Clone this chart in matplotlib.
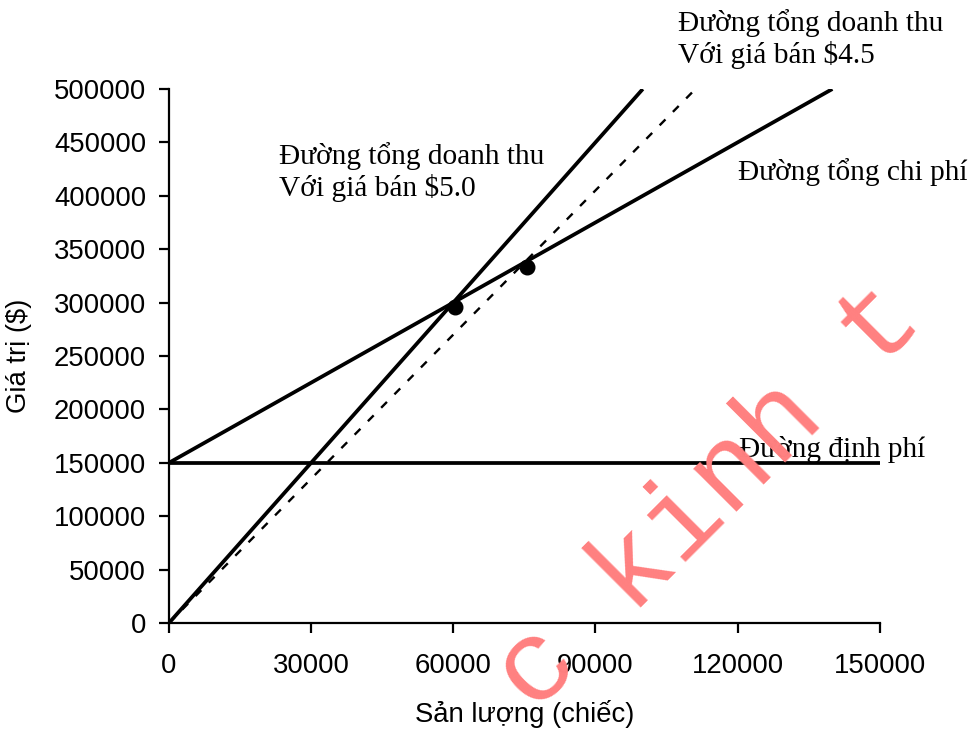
import matplotlib
matplotlib.use("Agg")
import matplotlib.pyplot as plt

# break-even chart: fixed cost, total cost and two revenue lines
q_fixed = [0, 150000]
fixed_cost = [150000, 150000]

q_total = [0, 140000]
total_cost = [150000, 500000]

q_rev50 = [0, 100000]
rev50 = [0, 500000]

q_rev45 = [0, 111111]
rev45 = [0, 500000]

q_points = [60300, 75500]
v_points = [296000, 333000]

x_ticks = [0, 30000, 60000, 90000, 120000, 150000]
y_ticks = [0, 50000, 100000, 150000, 200000, 250000, 300000, 350000, 400000, 450000, 500000]

SANS = "Liberation Sans"
SERIF = "Liberation Serif"
FS = 19.8

fig = plt.figure(figsize=(9.71, 7.29), dpi=100)
ax = fig.add_axes([0.174, 0.1454, 0.732, 0.7325])

ax.plot(q_fixed, fixed_cost, color="black", lw=2.7, solid_capstyle="butt")
ax.plot(q_total, total_cost, color="black", lw=2.7, solid_capstyle="butt")
ax.plot(q_rev50, rev50, color="black", lw=2.7, solid_capstyle="butt")
ax.plot(q_rev45, rev45, color="black", lw=1.7, dashes=(3.5, 4.5))
ax.plot(q_points, v_points, "o", color="black", ms=10.5, zorder=5)

ax.set_xlim(0, 150000)
ax.set_ylim(0, 500000)
ax.set_xticks(x_ticks)
ax.set_yticks(y_ticks)
ax.set_xticklabels([str(t) for t in x_ticks], fontfamily=SANS, fontsize=FS)
ax.set_yticklabels([str(t) for t in y_ticks], fontfamily=SANS, fontsize=FS)
ax.tick_params(direction="out", length=7.5, width=1.6)
ax.tick_params(axis="y", pad=9)
ax.tick_params(axis="x", pad=14)

for side in ("top", "right"):
    ax.spines[side].set_visible(False)
for side in ("left", "bottom"):
    ax.spines[side].set_linewidth(1.6)

ax.set_xlabel("Sản lượng (chiếc)", fontfamily=SANS, fontsize=FS, labelpad=15)
ax.set_ylabel("Giá trị ($)", fontfamily=SANS, fontsize=FS, labelpad=16)

txt = dict(fontfamily=SERIF, fontsize=21.2, color="black", linespacing=1.2)
ax.text(23200, 422000, "Đường tổng doanh thu\nVới giá bán $5.0", va="center", ha="left", **txt)
ax.text(107400, 546800, "Đường tổng doanh thu\nVới giá bán $4.5", va="center", ha="left",
        clip_on=False, **txt)
ax.text(120000, 422000, "Đường tổng chi phí", va="center", ha="left", clip_on=False, **txt)
ax.text(120250, 162000, "Đường định phí", va="center", ha="left", clip_on=False, **txt)

# diagonal watermark
fig.text(0.730, 0.318, "c kinh t", fontfamily="Liberation Mono", fontsize=83,
         color="#FF8080", rotation=45, rotation_mode="anchor",
         ha="center", va="center", zorder=10)

fig.savefig("out.png", dpi=100)
